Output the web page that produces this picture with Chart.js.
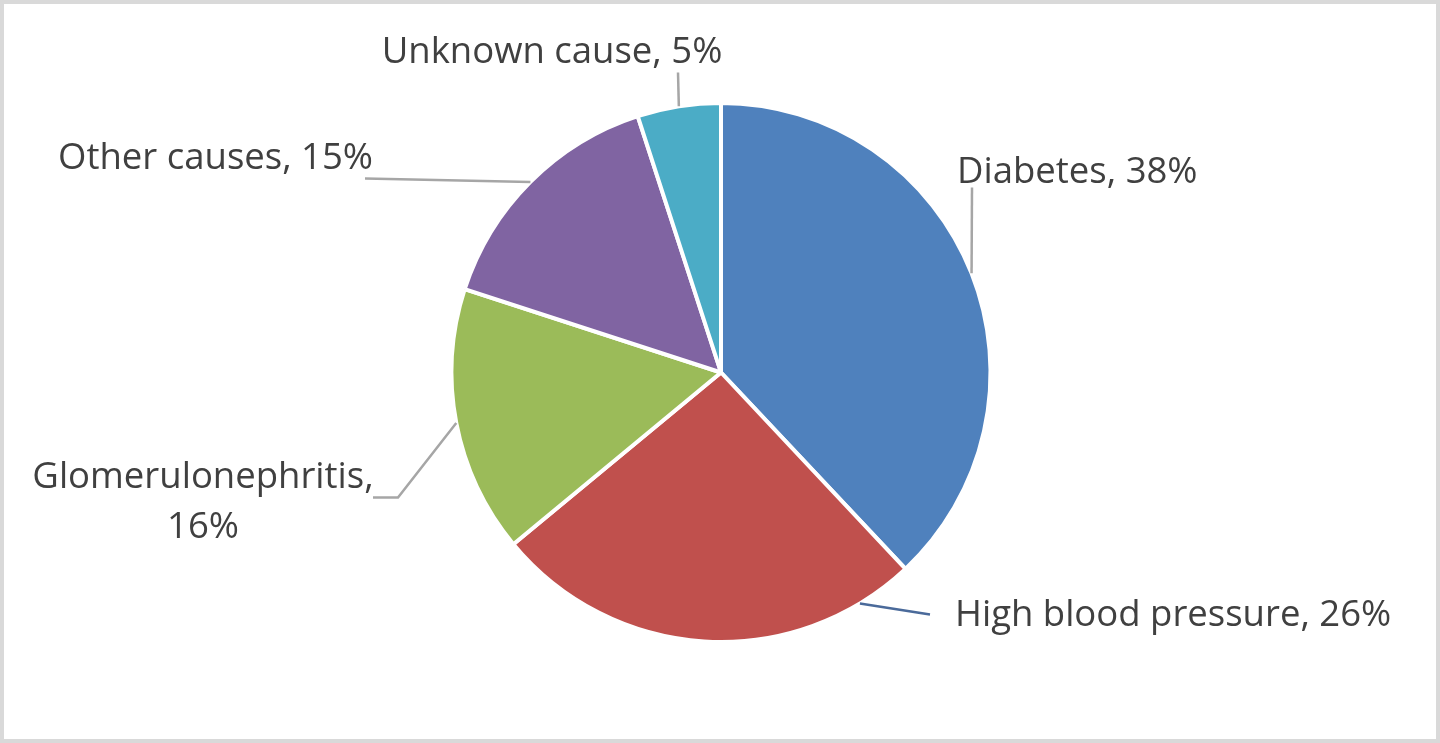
<!DOCTYPE html>
<html>
<head>
<meta charset="utf-8">
<script src="https://cdn.jsdelivr.net/npm/chart.js@4"></script>
<style>
  html, body { margin: 0; padding: 0; background: #fff; }
  #wrap { position: relative; width: 1440px; height: 743px; }
  #frame { position: absolute; inset: 0; border: 4px solid #d9d9d9; box-sizing: border-box; pointer-events: none; }
</style>
</head>
<body>
<div id="wrap">
  <canvas id="myChart" width="1440" height="743"></canvas>
  <div id="frame"></div>
</div>
<script>
const causes = ["Diabetes", "High blood pressure", "Glomerulonephritis", "Other causes", "Unknown cause"];
const shares = [38, 26, 16, 15, 5];
const colors = ["#4F81BD", "#C0504D", "#9BBB59", "#8064A2", "#4BACC6"];

// label placement, offsets in px from the pie centre
const labelLayout = [
  { frac: 0.5,  line: [[251, -185]], text: [236, -190], align: "left", color: "#a6a6a6" },
  { frac: 0.13, line: [[209, 242]], text: [234, 253], align: "left", color: "#4a6a9a" },
  { frac: 0.5,  line: [[-323, 125], [-348, 125]], text: [-518, 115], align: "center", wrap: true, color: "#a6a6a6" },
  { frac: 0.5,  line: [[-356, -194]], text: [-348, -204], align: "right", color: "#a6a6a6" },
  { frac: 0.5,  line: [[-43, -300]], text: [-169, -310], align: "center", color: "#a6a6a6" }
];

const pieLabels = {
  id: "pieLabels",
  afterDatasetsDraw(chart) {
    const ctx = chart.ctx;
    const meta = chart.getDatasetMeta(0);
    ctx.save();
    ctx.font = "36.5px 'Open Sans'";
    ctx.fillStyle = "#404040";
    ctx.lineWidth = 2.5;
    meta.data.forEach((arc, i) => {
      const p = arc.getProps(["x", "y", "startAngle", "endAngle", "outerRadius"], true);
      const L = labelLayout[i];
      const a = p.startAngle + (p.endAngle - p.startAngle) * L.frac;
      ctx.strokeStyle = L.color;
      ctx.beginPath();
      ctx.moveTo(p.x + Math.cos(a) * p.outerRadius, p.y + Math.sin(a) * p.outerRadius);
      L.line.forEach(([dx, dy]) => ctx.lineTo(p.x + dx, p.y + dy));
      ctx.stroke();

      const txt = causes[i] + ", " + shares[i] + "%";
      ctx.textAlign = L.align;
      ctx.textBaseline = "alphabetic";
      if (L.wrap) {
        ctx.fillText(causes[i] + ",", p.x + L.text[0], p.y + L.text[1]);
        ctx.fillText(shares[i] + "%", p.x + L.text[0], p.y + L.text[1] + 50);
      } else {
        ctx.fillText(txt, p.x + L.text[0], p.y + L.text[1]);
      }
    });
    ctx.restore();
  }
};

new Chart(document.getElementById("myChart"), {
  type: "pie",
  data: {
    labels: causes,
    datasets: [{
      data: shares,
      backgroundColor: colors,
      borderColor: "#ffffff",
      borderWidth: 4
    }]
  },
  options: {
    responsive: false,
    animation: false,
    layout: { padding: { top: 101, bottom: 99, left: 449, right: 447 } },
    plugins: {
      legend: { display: false },
      tooltip: { enabled: false }
    }
  },
  plugins: [pieLabels]
});
</script>
</body>
</html>
